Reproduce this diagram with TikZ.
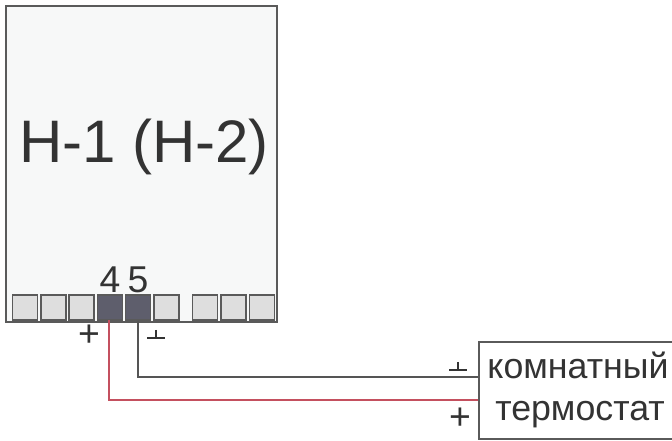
\documentclass[tikz,border=0pt]{standalone}
\usepackage{fontspec}
\setmainfont{Liberation Sans}
\definecolor{ink}{HTML}{333333}
\definecolor{edge}{HTML}{5A5A5A}
\definecolor{panel}{HTML}{F7F8F8}
\definecolor{termlight}{HTML}{DEDEDE}
\definecolor{termdark}{HTML}{5E5E6C}
\definecolor{wirered}{HTML}{C4505F}
\definecolor{wireblack}{HTML}{555555}
\tikzset{
  x=0.75pt,y=-0.75pt,
  panelbox/.style={draw=edge,line width=1.2pt,fill=panel,inner sep=0pt,minimum width=203.25pt,minimum height=237pt},
  term/.style={draw=edge,line width=1.2pt,fill=termlight,inner sep=0pt,minimum width=18.6pt,minimum height=18.6pt},
  termd/.style={term,fill=termdark},
  label/.style={text=ink,inner sep=0pt,anchor=base},
  sign/.style={text=ink,inner sep=0pt,font=\fontsize{28pt}{28pt}\selectfont},
  gnd/.style={draw=ink,line width=1.4pt},
  wireb/.style={draw=wireblack,line width=1.2pt},
  wirer/.style={draw=wirered,line width=1.2pt},
}
\begin{document}
\begin{tikzpicture}
\useasboundingbox (0,0) rectangle (672,441);
\fill[white] (0,0) rectangle (672,441);
\node[panelbox] (main) at (141.5,164) {};
\node[term] (t1) at (25,307.5) {};
\node[term] (t2) at (53.5,307.5) {};
\node[term] (t3) at (81.5,307.5) {};
\node[termd] (t4) at (110,307.5) {};
\node[termd] (t5) at (138,307.5) {};
\node[term] (t6) at (166.5,307.5) {};
\node[term] (t7) at (205,307.5) {};
\node[term] (t8) at (233.5,307.5) {};
\node[term] (t9) at (262,307.5) {};
\node[label,font=\fontsize{45pt}{45pt}\selectfont] (title) at (144,163) {H-1 (H-2)};
\node[label,font=\fontsize{28pt}{28pt}\selectfont] (n4) at (110,292.5) {4};
\node[label,font=\fontsize{28pt}{28pt}\selectfont] (n5) at (138,292.5) {5};
\node[draw=edge,line width=1.2pt,fill=white,inner sep=0pt,minimum width=150pt,minimum height=72.75pt,anchor=north west] (stat) at (478,341) {};
\node[label,font=\fontsize{26.8pt}{26.8pt}\selectfont] (s1) at (578,379) {комнатный};
\node[label,font=\fontsize{26.8pt}{26.8pt}\selectfont] (s2) at (580,421) {термостат};
\coordinate (t4w) at (109,320);
\coordinate (endb) at (stat.west |- 0,377);
\coordinate (endr) at (stat.west |- 0,400);
\draw[wireb] (t5.south) |- (endb);
\draw[wirer] (t4w) |- (endr);
\node[sign] (p1) at (89,336) {+};
\node[sign] (p2) at (460,418.5) {+};
\draw[gnd] (147,338) -- (165,338) (156,330) -- (156,338);
\draw[gnd] (449,370) -- (467,370) (458,362) -- (458,370);
\end{tikzpicture}
\end{document}
